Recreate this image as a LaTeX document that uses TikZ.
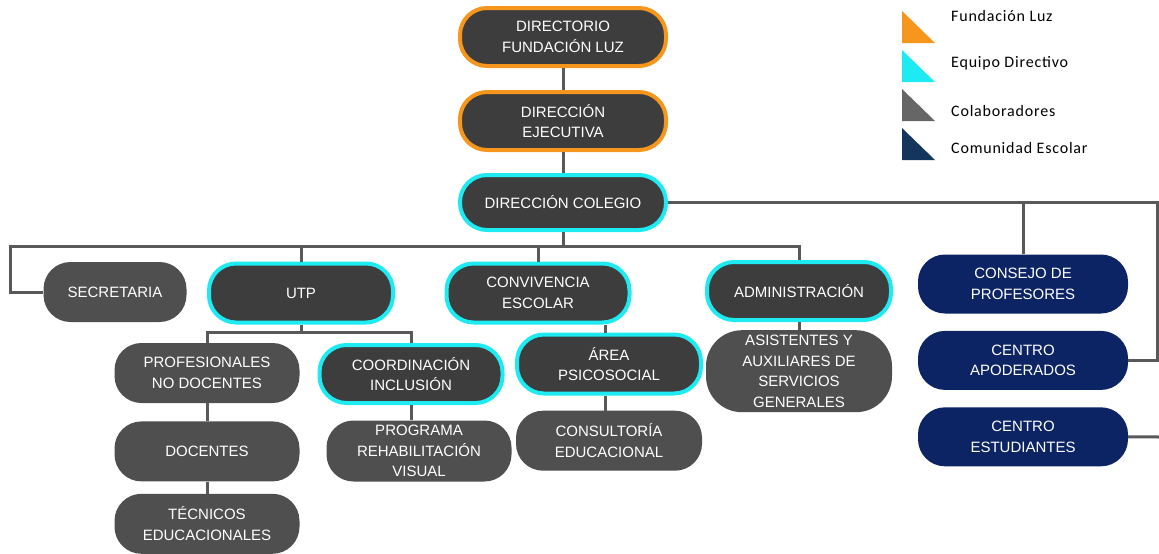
\documentclass[tikz,border=0pt]{standalone}
\usepackage{fontspec}
\usetikzlibrary{positioning}
\newfontfamily\boxfont{Liberation Sans}
\newfontfamily\keyfont[LetterSpace=5]{Carlito}
\definecolor{fluz}{HTML}{F7961C}
\definecolor{equipo}{HTML}{1EEAF2}
\definecolor{dark}{HTML}{3D3D3D}
\definecolor{colab}{HTML}{4F4F4F}
\definecolor{comun}{HTML}{0C2463}
\definecolor{keygray}{HTML}{666666}
\definecolor{keyblue}{HTML}{14365C}
\definecolor{linegray}{HTML}{595959}
\begin{document}
\begin{tikzpicture}[x=1pt, y=-1pt, node distance=17pt,
    box/.style = {rounded corners=27pt, text=white, align=center, inner sep=0pt, font=\boxfont\fontsize{15}{20.5}\selectfont},
    fl/.style = {box, draw=fluz, line width=4pt, fill=dark, minimum width=206pt, minimum height=58pt},
    ed/.style = {box, draw=equipo, line width=4pt, fill=dark, minimum width=184pt, minimum height=58pt},
    col/.style = {box, fill=colab, minimum width=185pt, minimum height=60pt},
    com/.style = {box, fill=comun, minimum width=210pt, minimum height=59pt},
    link/.style = {draw=linegray, line width=3pt},
    key/.style = {anchor=west, inner sep=0pt, font=\keyfont\fontsize{16}{18}\selectfont}]
    \useasboundingbox (0,0) rectangle (1159,554);
    \node[fl] (1) at (563,37) {DIRECTORIO\\FUNDACIÓN LUZ};
    \node[fl] (2) [below=22pt of 1] {DIRECCIÓN\\EJECUTIVA};
    \node[ed, minimum width=206pt, minimum height=55pt] (3) [below=21pt of 2] {DIRECCIÓN COLEGIO};
    \node[col, minimum width=143pt] (4) at (115,292) {SECRETARIA};
    \node[ed, minimum height=59pt] (5) at (301,293) {UTP};
    \node[ed, minimum width=183pt, minimum height=59pt] (6) at (538,293) {CONVIVENCIA\\ESCOLAR};
    \node[ed] (7) at (799,291) {ADMINISTRACIÓN};
    \node[com] (8) at (1023,284) {CONSEJO DE\\PROFESORES};
    \node[com] (9) [below=of 8] {CENTRO\\APODERADOS};
    \node[com] (10) [below=of 9] {CENTRO\\ESTUDIANTES};
    \node[col] (11) at (207,373) {PROFESIONALES\\NO DOCENTES};
    \node[ed, minimum width=183pt] (12) at (411,374) {COORDINACIÓN\\INCLUSIÓN};
    \node[ed, minimum height=59pt] (13) at (609,364) {ÁREA\\PSICOSOCIAL};
    \node[col, minimum width=186pt, minimum height=82pt, rounded corners=36pt] (14) [below=8pt of 7] {ASISTENTES Y\\AUXILIARES DE\\SERVICIOS\\GENERALES};
    \node[col] (15) [below=18pt of 11] {DOCENTES};
    \node[col, minimum height=61pt] (16) at (419,451) {PROGRAMA\\REHABILITACIÓN\\VISUAL};
    \node[col, minimum width=186pt] (17) [below=15pt of 13] {CONSULTORÍA\\EDUCACIONAL};
    \node[col] (18) [below=12pt of 15] {TÉCNICOS\\EDUCACIONALES};
    %Lineas
    \coordinate (bus) at (563,246);
    \coordinate (busL) at (10,246);
    \coordinate (busR) at (1157,0);
    \coordinate (cut) at (1159,437);
    \draw[link] (1) -- (2);
    \draw[link] (2) -- (3);
    \draw[link] (3.south) |- (busL) |- (4.west);
    \draw[link] (bus) -| (5.north);
    \draw[link] (bus) -| (6.north);
    \draw[link] (bus) -| (7.north);
    \draw[link] (5.south) -- ++(0,8) -| (11.north);
    \draw[link] (5.south) -- ++(0,8) -| (12.north);
    \draw[link] (11) -- (15);
    \draw[link] (15) -- (18);
    \draw[link] (12.south) -- (12.south |- 16.north);
    \draw[link] ([xshift=-4pt]13.north) -- ([xshift=-4pt]13.north |- 6.south);
    \draw[link] ([xshift=-4pt]13.south) -- ([xshift=-4pt]13.south |- 17.north);
    \draw[link] (7) -- (14);
    \draw[link] (3.east) -| (8.north);
    \draw[link] (3.east) -- (3.east -| busR) |- (9.east);
    \draw[link] (10.east) -- (cut);
    %Leyenda
    \fill[fluz] (902,11) -- (902,43) -- (935,43) -- cycle;
    \fill[equipo] (902,50) -- (902,82) -- (935,82) -- cycle;
    \fill[keygray] (902,89) -- (902,121) -- (935,121) -- cycle;
    \fill[keyblue] (902,128) -- (902,160) -- (935,160) -- cycle;
    \node[key] (k1) at (951,16) {Fundación Luz};
    \node[key] (k2) at (951,63) {Equipo Directivo};
    \node[key] (k3) at (951,111) {Colaboradores};
    \node[key] (k4) at (951,148) {Comunidad Escolar};
\end{tikzpicture}
\end{document}
